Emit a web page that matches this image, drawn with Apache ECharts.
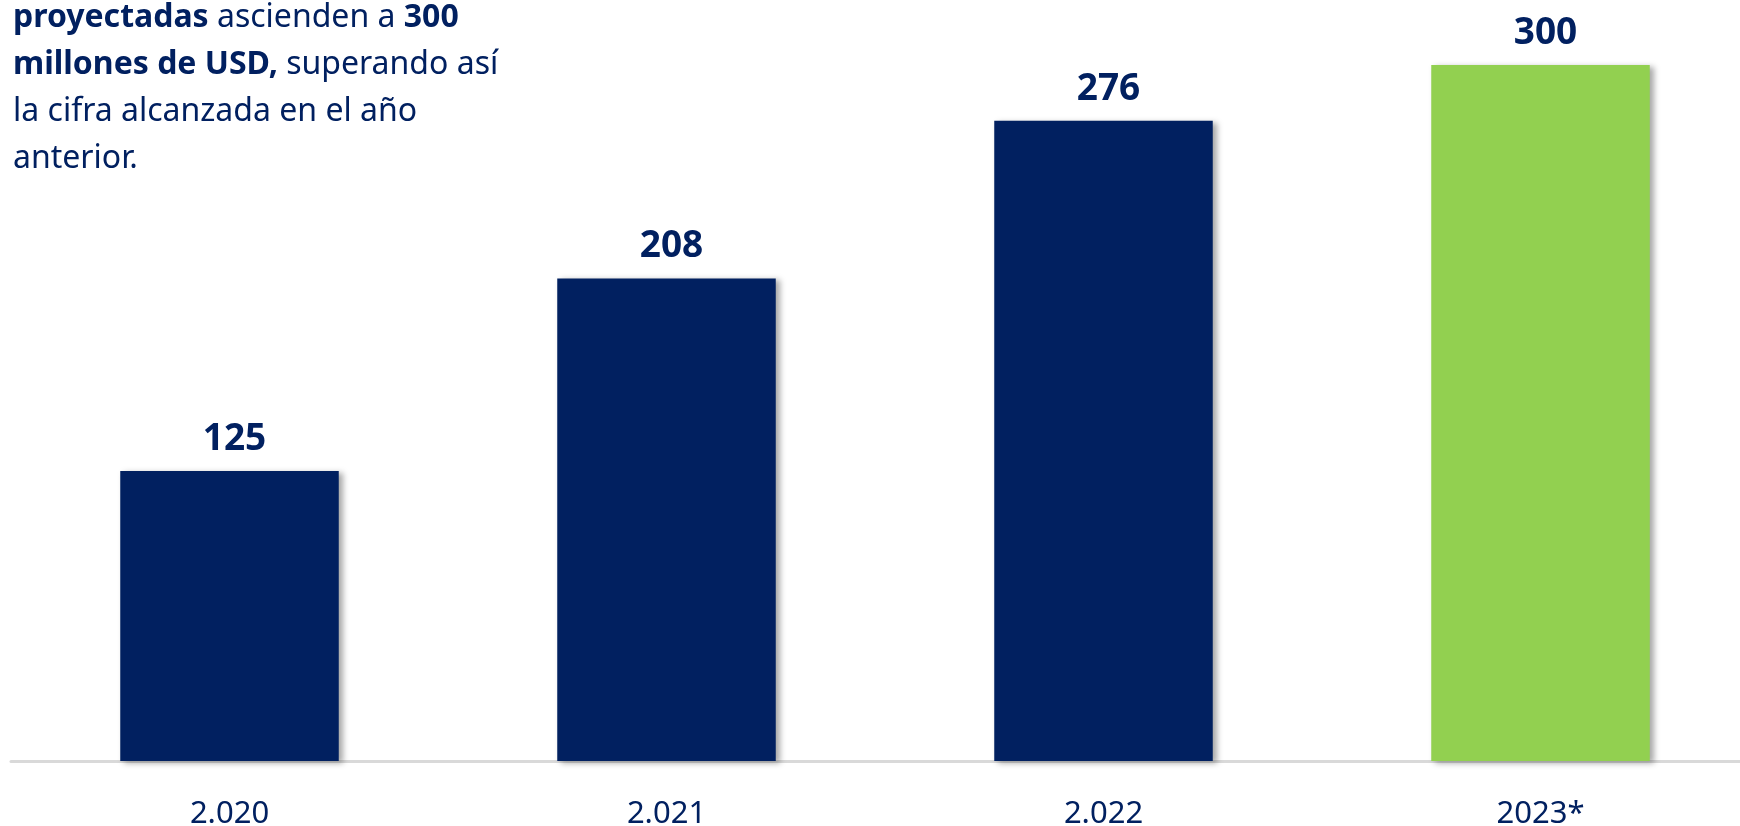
<!DOCTYPE html>
<html>
<head>
<meta charset="utf-8">
<style>
  html, body { margin: 0; padding: 0; background: #ffffff; }
  #chart { width: 1740px; height: 826px; }
</style>
<script src="https://cdn.jsdelivr.net/npm/echarts@6/dist/echarts.min.js"></script>
</head>
<body>
<div id="chart"></div>
<script>
const categories = ['2.020', '2.021', '2.022', '2023*'];
const values = [125, 208, 276, 300];
const barColors = ['#012060', '#012060', '#012060', '#92D050'];

const navy = '#012060';
const chart = echarts.init(document.getElementById('chart'));

chart.setOption({
  backgroundColor: '#ffffff',
  animation: false,
  grid: { left: 11, width: 1748, top: 65, bottom: 65, containLabel: false, outerBoundsMode: 'none' },
  xAxis: {
    type: 'category',
    data: categories,
    axisLine: { show: true, lineStyle: { color: '#d9d9d9', width: 3 } },
    axisTick: { show: false },
    axisLabel: {
      color: navy,
      fontFamily: 'Noto Sans',
      fontSize: 31,
      margin: 38
    },
    splitLine: { show: false }
  },
  yAxis: {
    type: 'value',
    min: 0,
    max: 300,
    show: false,
    splitLine: { show: false }
  },
  series: [{
    type: 'bar',
    barWidth: '50%',
    data: values.map((v, i) => ({
      value: v,
      itemStyle: {
        color: barColors[i],
        shadowColor: 'rgba(0,0,0,0.35)',
        shadowBlur: 6,
        shadowOffsetX: 4,
        shadowOffsetY: 2
      }
    })),
    label: {
      show: true,
      position: 'top',
      distance: 13,
      offset: [5, 0],
      color: navy,
      fontFamily: 'Noto Sans',
      fontWeight: 'bold',
      fontSize: 37
    }
  }],
  graphic: [{
    type: 'text',
    left: 13,
    top: -6,
    style: {
      text: '{b|proyectadas} {n|ascienden a} {b|300}\n{b|millones de USD,} {n|superando así}\n{n|la cifra alcanzada en el año}\n{n|anterior.}',
      fill: navy,
      fontFamily: 'Noto Sans',
      fontSize: 32,
      lineHeight: 47,
      rich: {
        b: { fontFamily: 'Noto Sans', fontSize: 32, fontWeight: 'bold', fill: navy, lineHeight: 47 },
        n: { fontFamily: 'Noto Sans', fontSize: 32, fontWeight: 'normal', fill: navy, lineHeight: 47 }
      }
    }
  }]
});
</script>
</body>
</html>
